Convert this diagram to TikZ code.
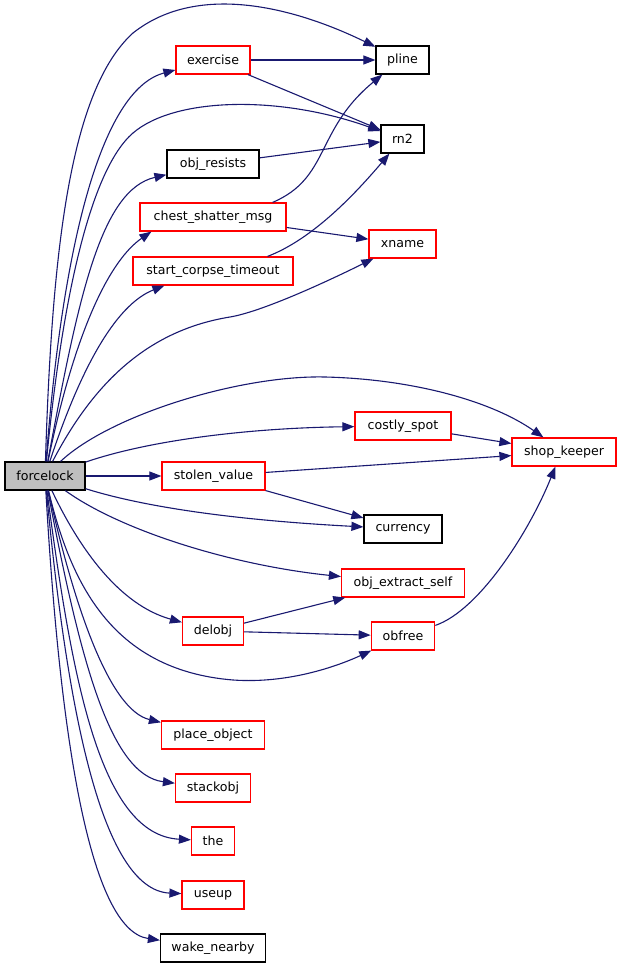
\documentclass[tikz,border=0pt]{standalone}
\usepackage{fontspec}
\setmainfont{DejaVu Sans}
\usetikzlibrary{arrows.meta}
\definecolor{edgeblue}{RGB}{25,25,112}
\definecolor{nodegray}{RGB}{191,191,191}
\definecolor{nodered}{RGB}{255,0,0}
\begin{document}
\begin{tikzpicture}[x=1pt,y=-1pt,
  fn/.style={rectangle, minimum height=28pt, inner sep=0pt, line width=1.2pt, font=\fontsize{12.6}{15}\selectfont, text=black},
  redfn/.style={fn, draw=nodered},
  blkfn/.style={fn, draw=black},
  call/.style={draw=edgeblue, line width=1.1pt, -{Triangle[length=12pt,width=9pt]}}
]
\fill[white] (0,0) rectangle (621,968);
\useasboundingbox (0,0) rectangle (621,968);

\node[blkfn, fill=nodegray, minimum width=80pt] (forcelock) at (45,476) {forcelock};
\node[redfn, minimum width=74pt] (exercise) at (213,60) {exercise};
\node[blkfn, minimum width=53pt] (pline) at (402.5,60) {pline};
\node[blkfn, minimum width=43pt] (rn2) at (402.5,139) {rn2};
\node[blkfn, minimum width=92pt] (resists) at (213,164) {obj\_resists};
\node[redfn, minimum width=146pt] (chest) at (213,217) {chest\_shatter\_msg};
\node[redfn, minimum width=160pt] (corpse) at (213,271) {start\_corpse\_timeout};
\node[redfn, minimum width=67pt] (xname) at (402.5,244) {xname};
\node[redfn, minimum width=96pt] (costly) at (403,426) {costly\_spot};
\node[redfn, minimum width=104pt] (shopkeeper) at (564,452) {shop\_keeper};
\node[redfn, minimum width=103pt] (stolen) at (213.5,476) {stolen\_value};
\node[blkfn, minimum width=78pt] (currency) at (403,529) {currency};
\node[redfn, minimum width=123pt] (extract) at (403,583) {obj\_extract\_self};
\node[redfn, minimum width=61pt] (delobj) at (213,631) {delobj};
\node[redfn, minimum width=63.5pt] (obfree) at (403,636) {obfree};
\node[redfn, minimum width=103pt] (place) at (213,735) {place\_object};
\node[redfn, minimum width=75pt] (stackobj) at (213,788) {stackobj};
\node[redfn, minimum width=43pt] (the) at (213,841) {the};
\node[redfn, minimum width=62pt] (useup) at (213,895) {useup};
\node[blkfn, minimum width=105pt] (wake) at (213,948) {wake\_nearby};

% from forcelock, upward
\draw[call] (forcelock) .. controls (52,250) and (70,90) .. (133,33) .. controls (200,-20) and (300,10) .. (pline);
\draw[call] (forcelock) .. controls (62,250) and (100,90) .. (exercise);
\draw[call] (forcelock) .. controls (62,300) and (90,170) .. (133,133) .. controls (175,97) and (280,95) .. (rn2);
\draw[call] (forcelock) .. controls (78,300) and (100,190) .. (resists);
\draw[call] (forcelock) .. controls (75,330) and (110,260) .. ([xshift=12pt]chest.south west);
\draw[call] (forcelock) .. controls (80,370) and (115,305) .. ([xshift=32pt]corpse.south west);
\draw[call] (forcelock) .. controls (95,380) and (150,330) .. (230,317) .. controls (260,312) and (320,285) .. ([xshift=5pt]xname.south west);
\draw[call] (forcelock) .. controls (110,415) and (240,375) .. (325,377) .. controls (410,379) and (490,400) .. ([xshift=32pt]shopkeeper.north west);
\draw[call] (forcelock) .. controls (150,440) and (250,428) .. (costly);
\draw[call] (forcelock) -- (stolen);
% from forcelock, downward
\draw[call] (forcelock) .. controls (160,512) and (270,522) .. (currency);
\draw[call] (forcelock) .. controls (120,530) and (230,565) .. (extract);
\draw[call] (forcelock) .. controls (80,550) and (120,605) .. (delobj);
\draw[call] (forcelock) .. controls (70,580) and (110,670) .. (233,680) .. controls (290,684) and (340,665) .. (obfree);
\draw[call] (forcelock) .. controls (75,610) and (110,710) .. (place);
\draw[call] (forcelock) .. controls (80,660) and (110,775) .. (stackobj);
\draw[call] (forcelock) .. controls (72,680) and (100,835) .. (the);
\draw[call] (forcelock) .. controls (66,700) and (100,890) .. (useup);
\draw[call] (forcelock) .. controls (60,740) and (90,930) .. (wake);

% other calls
\draw[call] (exercise) -- (pline);
\draw[call] (exercise) -- (rn2);
\draw[call] (resists) -- (rn2);
\draw[call] ([xshift=-14pt]chest.north east) .. controls (330,178) and (315,130) .. ([xshift=7pt]pline.south west);
\draw[call] (chest) -- (xname);
\draw[call] ([xshift=-26pt]corpse.north east) .. controls (310,240) and (350,200) .. ([xshift=9pt]rn2.south west);
\draw[call] (costly) -- (shopkeeper);
\draw[call] (stolen) -- (shopkeeper);
\draw[call] (stolen) -- (currency);
\draw[call] (delobj) -- (extract);
\draw[call] (delobj) -- (obfree);
\draw[call] ([yshift=-4pt]obfree.north east) .. controls (480,610) and (530,530) .. ([xshift=44pt]shopkeeper.south west);
\end{tikzpicture}
\end{document}
